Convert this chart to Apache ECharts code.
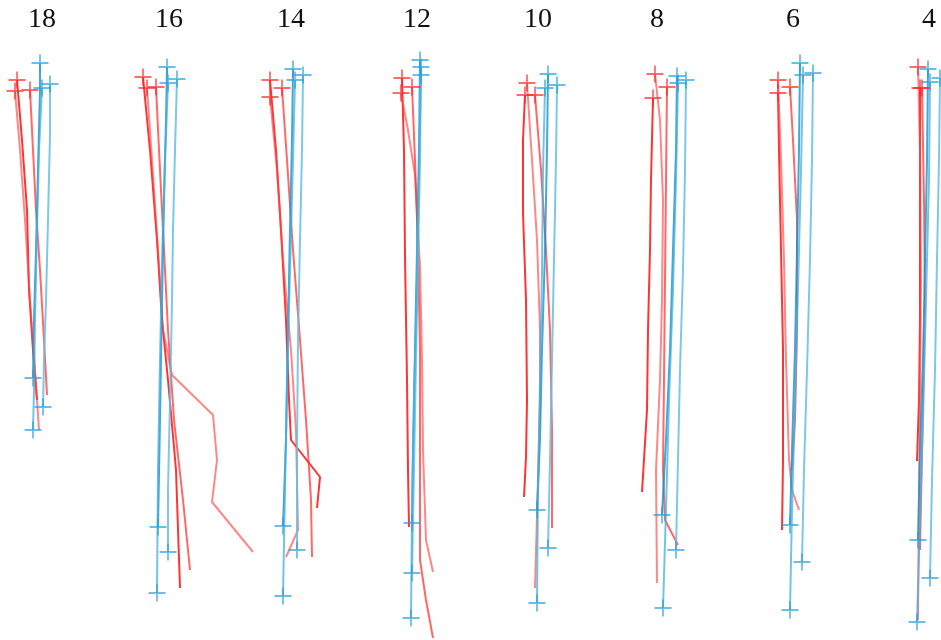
<!DOCTYPE html>
<html>
<head>
<meta charset="utf-8">
<script src="https://cdn.jsdelivr.net/npm/echarts@6/dist/echarts.min.js"></script>
<style>
  html, body { margin: 0; padding: 0; background: #fff; }
  #chart { width: 941px; height: 640px; }
</style>
</head>
<body>
<div id="chart"></div>
<script>
// Group labels and the horizontal centre of each group (in plot units)
const groupLabels  = ['18', '16', '14', '12', '10', '8', '6', '4'];
const groupCenters = [42, 169, 291, 417, 538, 657, 793, 929];

// Traces per group: each trace is a list of [x, y] points, first point = start
const red18 = [
  [[17,80],[22,140],[27,210],[29,290],[33,350],[37,400]],
  [[15,91],[20,150],[25,220],[30,300],[35,370],[39,430]],
  [[30,90],[33,150],[36,210],[40,270],[44,340],[47,395]]
];
const blue18 = [
  [[40,63],[40,90],[38,170],[36,250],[34,320],[33,378]],
  [[50,84],[50,135],[48,220],[46,300],[44,360],[43,407]],
  [[42,88],[39,150],[37,230],[35,320],[34,390],[33,430]]
];

const red16 = [
  [[143,77],[150,150],[157,240],[162,320],[168,380],[176,470],[180,588]],
  [[147,88],[152,160],[158,250],[163,330],[172,375],[213,415],[217,460],[212,502],[253,552]],
  [[156,87],[160,170],[164,250],[168,330],[174,420],[183,500],[190,570]]
];
const blue16 = [
  [[167,67],[166,120],[164,200],[162,300],[160,420],[158,527]],
  [[177,79],[175,150],[173,230],[172,300],[170,400],[168,490],[168,552]],
  [[168,83],[165,160],[162,260],[160,360],[158,470],[157,593]]
];

const red14 = [
  [[270,80],[276,150],[281,230],[286,320],[289,400],[291,440],[320,477],[317,508]],
  [[270,97],[277,170],[283,260],[291,350],[296,430],[298,530],[286,557]],
  [[282,88],[287,160],[293,250],[300,340],[306,420],[311,500],[312,557]]
];
const blue14 = [
  [[293,69],[292,140],[290,230],[288,330],[286,440],[283,526]],
  [[303,75],[302,150],[300,240],[298,340],[297,450],[297,550]],
  [[295,80],[293,160],[290,270],[287,380],[285,490],[283,596]]
];

const red12 = [
  [[402,78],[404,150],[405,257],[407,380],[408,470],[409,527]],
  [[401,93],[408,130],[415,175],[420,267],[422,360],[423,450],[426,540],[433,572]],
  [[412,87],[415,160],[418,250],[420,350],[420,450],[420,560],[426,600],[433,638]]
];
const blue12 = [
  [[420,60],[419,150],[417,250],[415,350],[413,450],[412,523]],
  [[421,67],[420,160],[418,260],[416,360],[414,470],[412,573]],
  [[421,75],[419,170],[417,280],[414,400],[412,510],[411,618]]
];

const red10 = [
  [[525,95],[523,140],[523,213],[526,300],[527,400],[526,457],[524,497]],
  [[527,83],[532,160],[537,240],[540,330],[540,400],[538,480],[535,588]],
  [[535,95],[541,170],[546,250],[550,330],[552,430],[552,528]]
];
const blue10 = [
  [[548,74],[547,150],[545,250],[542,350],[540,440],[537,510]],
  [[557,85],[556,160],[554,260],[552,360],[550,460],[548,548]],
  [[545,88],[543,170],[542,270],[540,380],[538,490],[537,603]]
];

const red8 = [
  [[653,98],[651,180],[650,250],[648,330],[647,410],[642,492]],
  [[655,74],[660,120],[663,200],[662,300],[660,380],[656,470],[657,583]],
  [[667,87],[666,180],[665,280],[664,380],[663,470],[665,520],[678,545]]
];
const blue8 = [
  [[677,76],[676,150],[673,250],[670,350],[666,440],[662,515]],
  [[686,80],[685,170],[683,270],[680,370],[678,460],[676,550]],
  [[678,83],[676,180],[673,290],[669,400],[666,510],[663,608]]
];

const red6 = [
  [[778,93],[779,150],[781,250],[783,350],[783,460],[782,530]],
  [[778,80],[781,160],[784,260],[786,360],[789,460],[792,490],[799,510]],
  [[790,87],[793,140],[797,220],[797,330],[795,420],[792,470]]
];
const blue6 = [
  [[800,63],[799,150],[797,250],[795,350],[792,450],[790,525]],
  [[813,73],[812,160],[810,260],[807,370],[804,470],[802,562]],
  [[803,75],[801,170],[798,290],[795,400],[792,510],[790,610]]
];

const red4 = [
  [[920,88],[920,200],[920,320],[919,400],[917,461]],
  [[918,67],[920,150],[921,280],[920,400],[919,500],[918,620]],
  [[922,88],[924,200],[925,300],[923,400],[921,500],[920,550]]
];
const blue4 = [
  [[928,69],[927,160],[925,260],[923,360],[920,450],[918,540]],
  [[940,78],[939,160],[937,260],[935,370],[932,480],[930,578]],
  [[930,82],[929,180],[926,300],[923,420],[920,520],[917,622]]
];

const redGroups  = [red18, red16, red14, red12, red10, red8, red6, red4];
const blueGroups = [blue18, blue16, blue14, blue12, blue10, blue8, blue6, blue4];

// Styling
const redShades  = ['rgba(255,0,0,0.8)', 'rgba(255,70,70,0.65)', 'rgba(255,40,40,0.7)'];
const blueShades = ['rgba(20,145,205,0.8)', 'rgba(100,190,228,0.85)', 'rgba(70,175,220,0.75)'];
const plusPath = 'path://M0,5L10,5M5,0L5,10';

const series = [];
function addTraces(groups, shades) {
  groups.forEach(function (traces) {
    traces.forEach(function (pts, i) {
      series.push({
        type: 'line',
        data: pts,
        showSymbol: false,
        silent: true,
        lineStyle: { color: shades[i % shades.length], width: 2 },
        z: 2
      });
    });
  });
}
addTraces(redGroups, redShades);
addTraces(blueGroups, blueShades);

function markers(data, color) {
  return {
    type: 'scatter',
    data: data,
    symbol: plusPath,
    symbolSize: 17,
    silent: true,
    itemStyle: { color: 'rgba(0,0,0,0)', borderColor: color, borderWidth: 1.8 },
    z: 3
  };
}
const redStarts = [], blueStarts = [], blueEnds = [];
redGroups.forEach(g => g.forEach(t => redStarts.push(t[0])));
blueGroups.forEach(g => g.forEach(t => {
  blueStarts.push(t[0]);
  blueEnds.push(t[t.length - 1]);
}));
series.push(markers(redStarts, 'rgba(255,40,40,0.85)'));
series.push(markers(blueStarts, 'rgba(40,160,215,0.85)'));
series.push(markers(blueEnds, 'rgba(40,160,215,0.85)'));

const chart = echarts.init(document.getElementById('chart'), null, { renderer: 'canvas' });
chart.setOption({
  backgroundColor: '#ffffff',
  animation: false,
  grid: { left: 0, right: 0, top: 0, bottom: 0 },
  xAxis: [{
    type: 'value', min: 0, max: 941, position: 'top',
    axisLine: { show: false }, axisTick: { show: false }, splitLine: { show: false },
    axisLabel: {
      inside: true,
      margin: 6,
      customValues: groupCenters,
      formatter: function (v) {
        const i = groupCenters.indexOf(v);
        return i >= 0 ? groupLabels[i] : '';
      },
      fontFamily: 'Liberation Serif',
      fontSize: 28,
      color: '#111',
      verticalAlign: 'top'
    }
  }],
  yAxis: {
    type: 'value', min: 0, max: 640, inverse: true, show: false
  },
  series: series
});
</script>
</body>
</html>
